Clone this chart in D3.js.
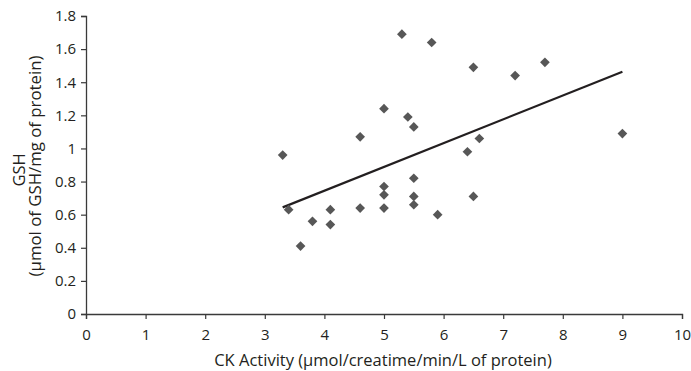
<!DOCTYPE html>
<html>
<head>
<meta charset="utf-8">
<script src="https://cdn.jsdelivr.net/npm/d3@7"></script>
<style>
  html, body { margin: 0; padding: 0; background: #fff; }
  svg { display: block; }
</style>
</head>
<body>
<div id="chart"></div>
<script>
// CK activity vs GSH scatter with linear trendline

const ckActivity = [3.3, 3.4, 3.6, 3.8, 4.1, 4.1, 4.6, 4.6, 5.0, 5.0, 5.0, 5.0, 5.3, 5.4,
                    5.5, 5.5, 5.5, 5.5, 5.8, 5.9, 6.4, 6.5, 6.5, 6.6, 7.2, 7.7, 9.0];
const gsh        = [0.96, 0.63, 0.41, 0.56, 0.63, 0.54, 1.07, 0.64, 1.24, 0.77, 0.72, 0.64, 1.69, 1.19,
                    1.13, 0.82, 0.71, 0.66, 1.64, 0.60, 0.98, 1.49, 0.71, 1.06, 1.44, 1.52, 1.09];
const xTicks = [0, 1, 2, 3, 4, 5, 6, 7, 8, 9, 10];
const yTicks = [0, 0.2, 0.4, 0.6, 0.8, 1, 1.2, 1.4, 1.6, 1.8];

const W = 691, H = 371;
const margin = { top: 16, right: 9, bottom: 57, left: 86 };
const FONT = '"Open Sans", "Noto Sans", sans-serif';
const INK = '#231f20';

const points = ckActivity.map((x, i) => ({ x, y: gsh[i] }));

const x = d3.scaleLinear().domain([0, 10]).range([margin.left, W - margin.right]);
const y = d3.scaleLinear().domain([0, 1.8]).range([H - margin.bottom, margin.top]);

const svg = d3.select('#chart').append('svg')
  .attr('width', W).attr('height', H)
  .attr('font-family', FONT);

// ── axes ──
const xAxis = svg.append('g')
  .attr('transform', `translate(0,${y(0)})`)
  .call(d3.axisBottom(x).tickValues(xTicks).tickSize(5).tickPadding(10).tickFormat(d3.format('d')));

const yAxis = svg.append('g')
  .attr('transform', `translate(${x(0)},0)`)
  .call(d3.axisLeft(y).tickValues(yTicks).tickSize(5).tickPadding(5).tickFormat(d => String(+d.toFixed(1))));

[xAxis, yAxis].forEach(g => {
  g.select('.domain').attr('stroke', '#3a3a3a').attr('stroke-width', 1.3);
  g.selectAll('.tick line').attr('stroke', '#3a3a3a').attr('stroke-width', 1.2);
  g.selectAll('.tick text')
    .attr('fill', INK)
    .attr('font-family', FONT)
    .attr('font-size', 15);
});

// ── trendline (least squares over the points) ──
const mx = d3.mean(points, d => d.x), my = d3.mean(points, d => d.y);
const slope = d3.sum(points, d => (d.x - mx) * (d.y - my)) / d3.sum(points, d => (d.x - mx) ** 2);
const icpt = my - slope * mx;
const [x0, x1] = d3.extent(points, d => d.x);

svg.append('line')
  .attr('x1', x(x0)).attr('y1', y(icpt + slope * x0))
  .attr('x2', x(x1)).attr('y2', y(icpt + slope * x1))
  .attr('stroke', INK)
  .attr('stroke-width', 2.2);

// ── points ──
svg.append('g')
  .selectAll('path')
  .data(points)
  .join('path')
    .attr('transform', d => `translate(${x(d.x)},${y(d.y)})`)
    .attr('d', d3.symbol(d3.symbolDiamond2, 60))
    .attr('fill', '#575757');

// ── axis titles ──
svg.append('text')
  .attr('x', 383).attr('y', 366)
  .attr('text-anchor', 'middle')
  .attr('font-size', 16.5)
  .attr('fill', INK)
  .text('CK Activity (µmol/creatime/min/L of protein)');

svg.append('text')
  .attr('transform', 'translate(25,170) rotate(-90)')
  .attr('text-anchor', 'middle')
  .attr('font-size', 16.5)
  .attr('fill', INK)
  .text('GSH');

svg.append('text')
  .attr('transform', 'translate(41,166) rotate(-90)')
  .attr('text-anchor', 'middle')
  .attr('font-size', 16.8)
  .attr('fill', INK)
  .text('(µmol of GSH/mg of protein)');
</script>
</body>
</html>
